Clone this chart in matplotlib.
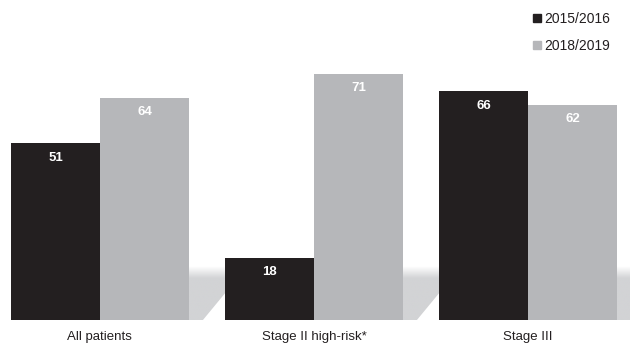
import numpy as np
import matplotlib
matplotlib.use("Agg")
import matplotlib.pyplot as plt
from matplotlib.lines import Line2D
from matplotlib.patches import Polygon

# ── Data ──────────────────────────────────────────────────────────────────────
categories = ["All patients", "Stage II high-risk*", "Stage III"]
series_names = ["2015/2016", "2018/2019"]
values_1516 = [51, 18, 66]
values_1819 = [64, 71, 62]

# ── Style ─────────────────────────────────────────────────────────────────────
plt.rcParams["font.family"] = ["Liberation Sans", "DejaVu Sans"]
c_dark = "#231f20"
c_grey = "#b6b7ba"
c_floor = "#d2d3d5"

fig = plt.figure(figsize=(6.3, 3.43), dpi=100)
ax = fig.add_axes([0, 0, 1, 1])
ax.set_xlim(-0.467, 2.477)
ax.set_ylim(-6.6, 92.2)
ax.axis("off")

w = 0.416
xs = np.arange(len(categories))

# ── Floor shadow behind each group (soft top edge, blended with white) ───────
floor_top = 15.3
t = np.clip(np.linspace(0, 1, 80) / 0.22, 0, 1)
floor_rgb = np.array(matplotlib.colors.to_rgb(c_floor))
img = (1 - t[:, None]) * 1.0 + t[:, None] * floor_rgb
img = img[:, None, :]
for x in xs:
    left = x - w
    right = x + w
    poly = Polygon([(left, 0), (right + 0.065, 0), (right + 0.27, floor_top),
                    (left, floor_top)], closed=True, facecolor="none",
                   edgecolor="none")
    ax.add_patch(poly)
    im = ax.imshow(img, extent=(left, right + 0.3, 0, floor_top),
                   aspect="auto", origin="upper", zorder=1,
                   interpolation="bilinear")
    im.set_clip_path(poly)

# ── Bars ──────────────────────────────────────────────────────────────────────
b1 = ax.bar(xs - w / 2, values_1516, w, color=c_dark, zorder=3)
b2 = ax.bar(xs + w / 2, values_1819, w, color=c_grey, zorder=3)

for bars, vals in ((b1, values_1516), (b2, values_1819)):
    for rect, v in zip(bars, vals):
        ax.annotate(str(v), (rect.get_x() + rect.get_width() / 2, v),
                    xytext=(0, -10.5), textcoords="offset points",
                    ha="center", va="center", color="white",
                    fontsize=9.5, fontweight="bold", zorder=4)

for x, cat in zip(xs, categories):
    ax.annotate(cat, (x, 0), xytext=(0, -12), textcoords="offset points",
                ha="center", va="center", fontsize=9.5, color="#231f20")

# ── Legend ────────────────────────────────────────────────────────────────────
handles = [
    Line2D([], [], marker="s", linestyle="none", markersize=5.5,
           color=c_dark, label=series_names[0]),
    Line2D([], [], marker="s", linestyle="none", markersize=5.5,
           color=c_grey, label=series_names[1]),
]
fig.legend(handles=handles, loc="upper left", bbox_to_anchor=(0.836, 0.985),
           frameon=False, fontsize=10, handlelength=0.5, handletextpad=0.25,
           labelspacing=0.95, borderpad=0, labelcolor="#231f20")

fig.savefig("out.png", dpi=100)
